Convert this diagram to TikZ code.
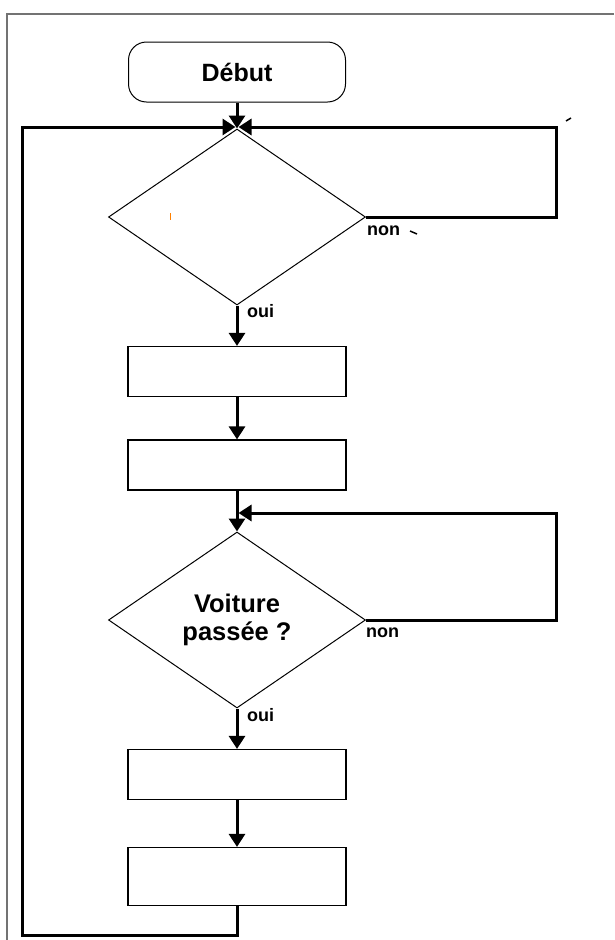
\documentclass[tikz,border=0pt]{standalone}
\usepackage{fontspec}
\setmainfont{Liberation Sans}
\usetikzlibrary{arrows.meta,shapes.geometric,shapes.misc}
\tikzset{
	startbox/.style={
		% The shape:
		rectangle,rounded corners=18pt,
		% The size:
		minimum width=217pt,minimum height=60pt,
		% The border:
		line width=1pt,
		draw=black,
		font=\fontsize{25}{28}\selectfont\bfseries
	}}
\tikzset{
	testbox/.style={
		% The shape:
		diamond,aspect=1.45,inner sep=0pt,
		% The size:
		minimum width=257pt,minimum height=176pt,
		% The border:
		line width=1pt,
		draw=black,
		align=center,font=\fontsize{25.5}{28}\selectfont\bfseries
	}}
\tikzset{
	actionbox/.style={
		% The shape:
		rectangle,minimum width=218pt,minimum height=50pt,
		% The border:
		line width=1.2pt,draw=black
	}}
\tikzset{
	flow/.style={line width=3pt,-{Triangle[length=13pt,width=16pt]}},
	answer/.style={inner sep=0pt,anchor=base west,font=\fontsize{18}{20}\selectfont\bfseries}
}

\begin{document}
\begin{tikzpicture}[x=1pt,y=-1pt]
	\useasboundingbox (0,0) rectangle (614,940);
	% frame of the page
	\draw[black!55,line width=1.5pt] (614,14) -| (7,940);

	\node[startbox] (debut) at (237,72) {Début};
	\node[testbox] (test1) at (237,217) {};
	\node[actionbox] (act1) at (237,371.5) {};
	\node[actionbox] (act2) at (237,465) {};
	\node[testbox] (test2) at (237,620) {Voiture\\passée ?};
	\node[actionbox] (act3) at (237,774.5) {};
	\node[actionbox,minimum height=58pt] (act4) at (237,876.5) {};

	\coordinate (join1) at (237,127);
	\coordinate (join2) at (237,513);
	\coordinate (backleft) at (22,935);
	\coordinate (backright1) at (556,127);
	\coordinate (backright2) at (556,513);

	\draw[flow] (debut) -- (test1);
	\draw[flow] (test1) -- (act1);
	\draw[flow] (act1) -- (act2);
	\draw[flow] (act2) -- (test2);
	\draw[flow] (test2) -- (act3);
	\draw[flow] (act3) -- (act4);

	\draw[flow,shorten >=1.5pt] (act4.south) |- (backleft) |- (join1);
	\draw[flow,shorten >=1.5pt] (test1.east) -| (backright1) -- (join1);
	\draw[flow,shorten >=1.5pt] (test2.east) -| (backright2) -- (join2);

	\node[answer] (non1) at (367,235) {non};
	\node[answer] (oui1) at (247,317) {oui};
	\node[answer] (non2) at (366,637) {non};
	\node[answer] (oui2) at (247,721) {oui};

	% stray marks
	\draw[line width=1.5pt] (566,121) -- (571,118);
	\draw[line width=1.5pt] (410,231) -- (417,234);
	\draw[orange,line width=0.8pt] (170,213) -- (170,220);
\end{tikzpicture}
\end{document}
